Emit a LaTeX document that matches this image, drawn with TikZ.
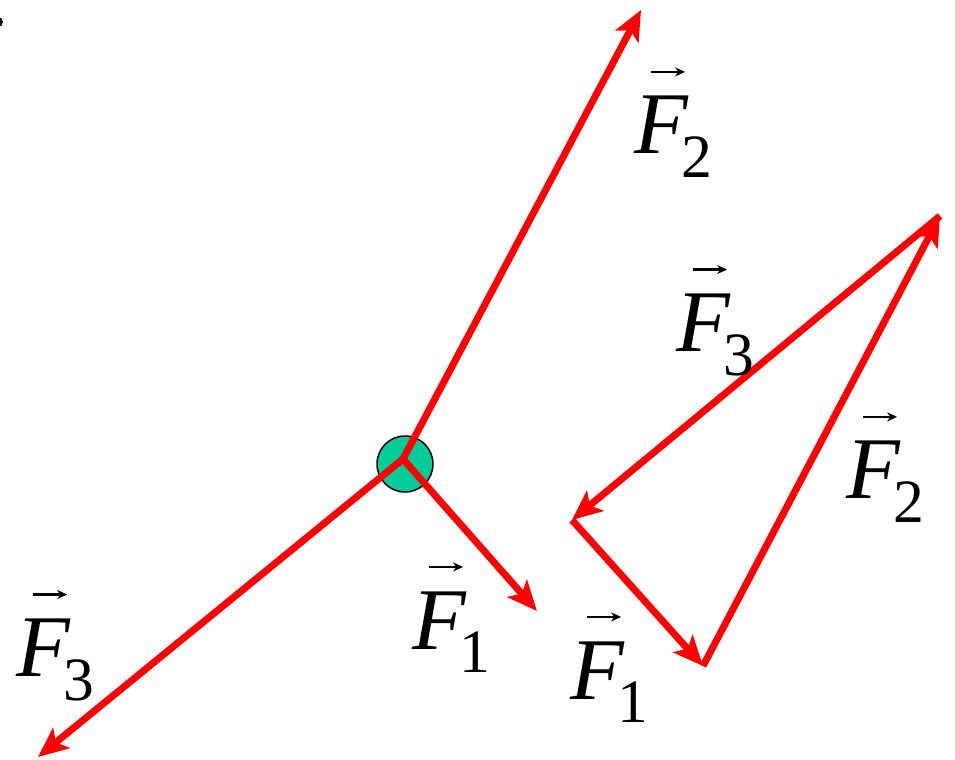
\documentclass[tikz,border=0pt]{standalone}
\usepackage{amsmath}
\usepackage{fontspec}
\setmainfont{Liberation Serif}
\usetikzlibrary{arrows.meta}
\definecolor{forcered}{RGB}{255, 0, 0}
\definecolor{ballgreen}{RGB}{0, 204, 153}
\newcommand{\vecarrow}{\tikz\draw[-{Stealth[length=5pt, width=4.5pt]}, line width=1.3pt] (0pt,0pt) -- (17pt,0pt);}
\newcommand{\forcelabel}[1]{$\overset{\raisebox{5pt}{\kern7pt\vecarrow}}{\text{\itshape F}}_{\kern-3pt\text{#1}}$}

\begin{document}
\begin{tikzpicture}[x=0.5pt, y=-0.5pt,
  force/.style={draw=forcered, line width=3.5pt, -{Stealth[length=15pt, width=13pt, inset=3.5pt]}},
  flabel/.style={font=\fontsize{44}{44}\selectfont, inner sep=0pt}]
\useasboundingbox (0,0) rectangle (955,760);
\fill (-2,22) circle (5);
% body and the three forces on it
\node[circle, draw, line width=0.75pt, fill=ballgreen, minimum size=28pt, inner sep=0pt] (ball) at (405,464) {};
\coordinate (tip1) at (537,611);
\coordinate (tip2) at (641,10);
\coordinate (tip3) at (38,757);
\draw[force] (403,459) coordinate (o) -- (tip2);
\draw[force] (o) -- (tip1);
\draw[force] (o) -- (tip3);
% closed triangle of forces
\coordinate (ta) at (572,520);
\coordinate (tb) at (703,666);
\coordinate (tc) at (940,216);
\draw[force] (ta) -- (tb);
\draw[force] (tb) -- (tc);
\draw[force] (tc) -- (ta);
% labels
\node[flabel] (l2) at (674,120) {\forcelabel{2}};
\node[flabel] (l1) at (452,615) {\forcelabel{1}};
\node[flabel] (l3) at (56,643) {\forcelabel{3}};
\node[flabel] (t3) at (716,318) {\forcelabel{3}};
\node[flabel] (t2) at (886,465) {\forcelabel{2}};
\node[flabel] (t1) at (610,665) {\forcelabel{1}};
\end{tikzpicture}
\end{document}
